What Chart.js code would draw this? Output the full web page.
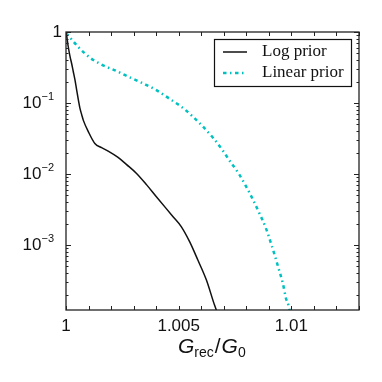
<!DOCTYPE html>
<html>
<head>
<meta charset="utf-8">
<script src="https://cdn.jsdelivr.net/npm/chart.js@4.4.0/dist/chart.umd.min.js"></script>
<style>
  html, body { margin: 0; padding: 0; background: #fff; }
  #wrap { width: 382px; height: 382px; }
</style>
</head>
<body>
<div id="wrap"><canvas id="myChart" width="382" height="382"></canvas></div>
<script>
// data
var logPriorX = [1.0000, 1.00003, 1.0001, 1.00018, 1.00025, 1.00032, 1.0004, 1.00047, 1.00055, 1.00062,
    1.0007, 1.00077, 1.00099, 1.00128, 1.00158, 1.00187, 1.00231, 1.00269, 1.00313, 1.00357,
    1.00401, 1.00475, 1.00512, 1.00549, 1.00585, 1.00623, 1.00659, 1.00667, 1.0068];
var logPriorY = [0.97, 0.88, 0.62, 0.45, 0.36, 0.28, 0.21, 0.155, 0.11, 0.084,
    0.068, 0.057, 0.0396, 0.0270, 0.0235, 0.0211, 0.0172, 0.0136, 0.0102, 0.0071,
    0.00479, 0.00251, 0.00181, 0.00111, 0.000616, 0.000322, 0.000143, 0.000122, 0.0001];

var linPriorX = [1.0000, 1.00058, 1.00106, 1.00162, 1.00224, 1.00283, 1.00342, 1.00401, 1.00457, 1.00512,
    1.0056, 1.00608, 1.00652, 1.00692, 1.00729, 1.00766, 1.008, 1.00829, 1.00858, 1.00885,
    1.00906, 1.00926, 1.00944, 1.00962, 1.00976, 1.00987, 1.00995];
var linPriorY = [0.97, 0.60, 0.435, 0.343, 0.282, 0.23, 0.189, 0.152, 0.116, 0.0887,
    0.0656, 0.0464, 0.0325, 0.0223, 0.0149, 0.0102, 0.0066, 0.0044, 0.0028, 0.0018,
    0.00115, 0.00072, 0.00046, 0.00029, 0.000178, 0.000143, 0.00011];

var seriesLabels = ["Log prior", "Linear prior"];

var xTickValues = [1, 1.005, 1.01];
var xTickLabels = ["1", "1.005", "1.01"];
var yTickValues = [1, 0.1, 0.01, 0.001];
var yTickExps = [null, "\u22121", "\u22122", "\u22123"];

var CYAN = "#00c0c0";

function toPoints(xs, ys) {
    return xs.map(function (x, i) { return { x: x, y: ys[i] }; });
}

// frame, inward ticks, y labels, legend and x title
var decorations = {
    id: "decorations",
    afterDraw: function (chart) {
        var ctx = chart.ctx;
        var a = chart.chartArea;
        var xs = chart.scales.x;
        var ys = chart.scales.y;
        ctx.save();
        ctx.strokeStyle = "#222";
        ctx.lineWidth = 1.3;
        ctx.strokeRect(a.left, a.top, a.right - a.left, a.bottom - a.top);

        ctx.lineWidth = 1;
        ctx.beginPath();
        for (var i = 0; i <= 13; i++) {
            var px = Math.round(xs.getPixelForValue(1 + i * 0.001)) + 0.5;
            ctx.moveTo(px, a.bottom); ctx.lineTo(px, a.bottom - 4);
            ctx.moveTo(px, a.top); ctx.lineTo(px, a.top + 4);
        }
        for (var e = -4; e <= 0; e++) {
            for (var m = 1; m <= 9; m++) {
                var v = m * Math.pow(10, e);
                if (v < ys.min || v > ys.max) continue;
                var py = Math.round(ys.getPixelForValue(v)) + 0.5;
                var len = m === 1 ? 5 : 2.5;
                ctx.moveTo(a.left, py); ctx.lineTo(a.left + len, py);
                ctx.moveTo(a.right, py); ctx.lineTo(a.right - len, py);
            }
        }
        ctx.stroke();

        // y tick labels with superscripts
        ctx.fillStyle = "#111";
        ctx.textBaseline = "middle";
        yTickValues.forEach(function (v, i) {
            var py = ys.getPixelForValue(v);
            if (yTickExps[i] === null) {
                ctx.font = "17px 'Liberation Sans', Arial, sans-serif";
                ctx.textAlign = "right";
                ctx.fillText("1", 62, py);
            } else {
                ctx.font = "11px 'Liberation Sans', Arial, sans-serif";
                ctx.textAlign = "right";
                var expW = ctx.measureText(yTickExps[i]).width;
                ctx.fillText(yTickExps[i], 54, py - 6);
                ctx.font = "17px 'Liberation Sans', Arial, sans-serif";
                ctx.fillText("10", 54 - expW, py + 0.5);
            }
        });

        // x axis title G_rec / G_0
        ctx.textBaseline = "alphabetic";
        ctx.textAlign = "left";
        var x0 = 178, base = 353;
        var big = "italic 21px 'Liberation Sans', Arial, sans-serif";
        var small = "14px 'Liberation Sans', Arial, sans-serif";
        var reg = "21px 'Liberation Sans', Arial, sans-serif";
        ctx.font = big; ctx.fillText("G", x0, base); x0 += ctx.measureText("G").width;
        ctx.font = small; ctx.fillText("rec", x0, base + 4); x0 += ctx.measureText("rec").width + 1;
        ctx.font = reg; ctx.fillText("/", x0, base); x0 += ctx.measureText("/").width + 1;
        ctx.font = big; ctx.fillText("G", x0, base); x0 += ctx.measureText("G").width;
        ctx.font = small; ctx.fillText("0", x0, base + 4);

        // legend
        ctx.fillStyle = "#fff";
        ctx.fillRect(214, 39, 138, 47);
        ctx.strokeStyle = "#111";
        ctx.lineWidth = 1.2;
        ctx.strokeRect(214.5, 39.5, 137, 47);
        chart.data.datasets.forEach(function (ds, i) {
            var ly = 52 + i * 21;
            ctx.save();
            ctx.strokeStyle = ds.borderColor;
            ctx.lineWidth = ds.borderWidth;
            ctx.setLineDash(ds.borderDash || []);
            ctx.beginPath();
            ctx.moveTo(223, ly); ctx.lineTo(247, ly);
            ctx.stroke();
            ctx.restore();
            ctx.fillStyle = "#111";
            ctx.font = "17px 'Liberation Serif', 'Times New Roman', serif";
            ctx.textBaseline = "middle";
            ctx.fillText(ds.label, 262, ly);
        });
        ctx.restore();
    }
};

var ctx = document.getElementById("myChart").getContext("2d");
var chart = new Chart(ctx, {
    type: "line",
    data: {
        datasets: [{
            label: seriesLabels[0],
            data: toPoints(logPriorX, logPriorY),
            borderColor: "#111",
            borderWidth: 1.5,
            pointRadius: 0,
            cubicInterpolationMode: "monotone",
            fill: false
        }, {
            label: seriesLabels[1],
            data: toPoints(linPriorX, linPriorY),
            borderColor: CYAN,
            borderWidth: 2.5,
            borderDash: [3.5, 3.5, 1.5, 3.5],
            pointRadius: 0,
            cubicInterpolationMode: "monotone",
            fill: false
        }]
    },
    options: {
        responsive: false,
        animation: false,
        layout: { padding: { top: 32, right: 23, left: 0, bottom: 0 } },
        plugins: { legend: { display: false }, tooltip: { enabled: false } },
        scales: {
            x: {
                type: "linear",
                min: 1,
                max: 1.013,
                grid: { display: false, drawTicks: false },
                border: { display: false },
                afterBuildTicks: function (scale) {
                    scale.ticks = xTickValues.map(function (v) { return { value: v }; });
                },
                afterFit: function (scale) { scale.height = 72; },
                ticks: {
                    autoSkip: false,
                    maxRotation: 0,
                    padding: 6,
                    color: "#111",
                    font: { family: "'Liberation Sans', Arial, sans-serif", size: 17 },
                    callback: function (v) {
                        var i = xTickValues.indexOf(v);
                        return i >= 0 ? xTickLabels[i] : "";
                    }
                }
            },
            y: {
                type: "logarithmic",
                min: 1.22e-4,
                max: 1,
                grid: { display: false, drawTicks: false },
                border: { display: false },
                afterFit: function (scale) { scale.width = 66; },
                ticks: { display: false }
            }
        }
    },
    plugins: [decorations]
});
</script>
</body>
</html>
